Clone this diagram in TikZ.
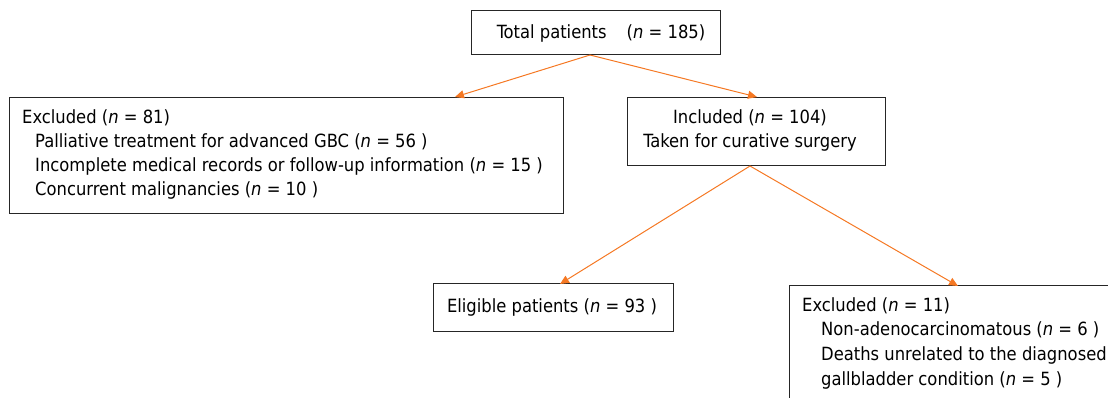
\documentclass[tikz,border=0pt]{standalone}
\usepackage{fontspec}
\setmainfont{DejaVu Sans Condensed}
\usetikzlibrary{arrows.meta}
\definecolor{arrorange}{RGB}{245,120,35}
\tikzset{
  x=1pt,y=-1pt,
  boxshape/.style={draw=black!85,line width=1.1pt,rectangle,inner sep=0pt,anchor=north west},
  txt/.style={anchor=west,inner sep=0pt,font=\fontsize{18.2}{24}\selectfont},
  ctxt/.style={anchor=center,inner sep=0pt,align=center,font=\fontsize{18.2}{24}\selectfont},
  arr/.style={draw=arrorange,line width=1pt,-{Triangle[length=9pt,width=8pt]}}
}
\newcommand{\nn}{\textit{n}}
\begin{document}
\begin{tikzpicture}
\useasboundingbox (0,0) rectangle (1108,398);
% boxes
\node[boxshape,minimum width=249pt,minimum height=44pt] (top) at (471,10) {};
\node[boxshape,minimum width=554pt,minimum height=116pt] (excl) at (9,97) {};
\node[boxshape,minimum width=258pt,minimum height=68pt] (inc) at (627,97) {};
\node[boxshape,minimum width=240pt,minimum height=48pt] (elig) at (433,283) {};
\node[boxshape,minimum width=340pt,minimum height=130pt] (excl2) at (789,285) {};
% texts
\node[ctxt] (ttop) at (601,33) {Total patients\hspace{1.1em}(\nn{} = 185)};
\node[txt] (t1) at (22,118) {Excluded (\nn{} = 81)};
\node[txt] (t2) at (35,142) {Palliative treatment for advanced GBC (\nn{} = 56 )};
\node[txt] (t3) at (35,166) {Incomplete medical records or follow-up information (\nn{} = 15 )};
\node[txt] (t4) at (35,190) {Concurrent malignancies (\nn{} = 10 )};
\node[ctxt] (tinc) at (750,130) {Included (\nn{} = 104)\\Taken for curative surgery};
\node[ctxt] (telig) at (552,307) {Eligible patients (\nn{} = 93 )};
\node[txt] (u1) at (802,306) {Excluded (\nn{} = 11)};
\node[txt] (u2) at (821,330) {Non-adenocarcinomatous (\nn{} = 6 )};
\node[txt] (u3) at (821,355) {Deaths unrelated to the diagnosed};
\node[txt] (u4) at (821,380) {gallbladder condition (\nn{} = 5 )};
% arrow targets
\coordinate (s1) at (590,55);
\coordinate (e1) at (455,97);
\coordinate (e2) at (757,97);
\coordinate (s2) at (750,166);
\coordinate (e3) at (560,284);
\coordinate (e4) at (958,286);
\draw[arr] (s1) -- (e1);
\draw[arr] (s1) -- (e2);
\draw[arr] (s2) -- (e3);
\draw[arr] (s2) -- (e4);
\end{tikzpicture}
\end{document}
